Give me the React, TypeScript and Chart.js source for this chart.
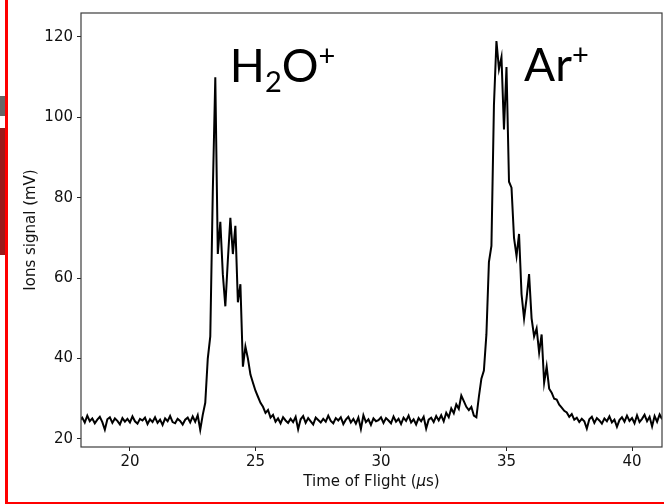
import React, { useEffect, useRef } from "react";
import { Chart, registerables } from "chart.js";

Chart.register(...registerables);

// ---- data ----
const tofStart = 18.0; // µs, first sample
const tofStep = 0.1; // µs between samples
const signal = [
  // 18.0
  24.6, 25.3, 24.1, 25.8, 24.4, 25.1, 23.9, 24.8, 25.5, 24.2,
  // 19.0
  22.3, 24.9, 25.4, 24.0, 25.1, 24.5, 23.6, 25.2, 24.3, 25.0,
  // 20.0
  24.1, 25.6, 24.4, 23.8, 25.0, 24.6, 25.3, 23.7, 24.9, 24.2,
  // 21.0
  25.4, 24.0, 24.8, 23.5, 25.1, 24.4, 25.7, 24.2, 23.9, 25.0,
  // 22.0
  24.5, 23.6, 24.8, 25.3, 24.1, 25.6, 24.3, 25.9, 22.3, 26.0,
  // 23.0
  29.0, 40.0, 45.5, 81.5, 110.0, 66.0, 74.0, 61.0, 53.0, 64.5,
  // 24.0
  75.0, 66.0, 73.0, 54.0, 58.5, 38.0, 43.0, 40.0, 36.0, 34.0,
  // 25.0
  32.0, 30.5, 29.0, 28.0, 26.5, 27.2, 25.3, 26.0, 24.3, 25.1,
  // 26.0
  23.9, 25.4, 24.6, 24.0, 25.0, 24.2, 25.5, 22.4, 24.9, 25.7,
  // 27.0
  24.0, 25.2, 24.4, 23.6, 25.3, 24.7, 24.1, 25.0, 24.3, 25.8,
  // 28.0
  24.5, 23.9, 25.2, 24.6, 25.4, 23.7, 24.8, 25.5, 24.1, 25.0,
  // 29.0
  23.8, 25.3, 22.5, 25.9, 24.2, 24.9, 23.5, 25.1, 24.4, 24.7,
  // 30.0
  25.4, 24.0, 25.2, 24.6, 23.9, 25.6, 24.3, 25.0, 23.7, 25.3,
  // 31.0
  24.5, 25.8, 24.1, 24.9, 23.6, 25.2, 24.4, 25.5, 22.6, 24.8,
  // 32.0
  25.3, 24.2, 25.7, 24.6, 25.9, 24.4, 26.5, 25.4, 27.6, 26.4,
  // 33.0
  28.6, 27.5, 30.8, 29.4, 28.0, 27.2, 28.0, 25.8, 25.4, 30.5,
  // 34.0
  35.0, 37.0, 46.0, 64.0, 68.0, 103.0, 119.0, 112.0, 115.0, 97.0,
  // 35.0
  112.5, 84.0, 82.5, 70.0, 65.5, 71.0, 56.0, 50.0, 55.0, 61.0,
  // 36.0
  50.0, 45.5, 47.5, 41.5, 46.0, 34.0, 38.0, 32.5, 31.5, 30.0,
  // 37.0
  29.8, 28.5, 27.8, 27.0, 26.6, 25.5, 26.2, 24.8, 25.3, 24.2,
  // 38.0
  25.0, 24.4, 22.6, 24.9, 25.5, 24.0, 25.2, 24.6, 23.8, 25.1,
  // 39.0
  24.4, 25.6, 24.1, 24.8, 23.0, 24.7, 25.4, 24.3, 25.8, 24.5,
  // 40.0
  25.2, 23.9, 25.9, 24.2, 25.0, 26.0, 24.4, 25.5, 23.1, 25.7,
  // 41.0
  24.3, 26.1, 24.9,
];

const xTickValues = [20, 25, 30, 35, 40];
const yTickValues = [20, 40, 60, 80, 100, 120];
const xRange = [18.05, 41.195];
const yRange = [18.0, 125.96];

// peak annotations: text ("_" = subscript, "^" = superscript) and anchor in data units
const peakLabelTexts = ["H_2O^+", "Ar^+"];
const peakLabelTof = [23.98, 35.7];
const peakLabelSignal = [108.7, 109.1];

const xTitleParts = ["Time of Flight (", "\u03bc", "s)"];
const yTitle = "Ions signal (mV)";

// ---- helpers ----
type Part = { text: string; kind: "n" | "sub" | "sup" };
function parseLabel(s: string): Part[] {
  const out: Part[] = [];
  let i = 0;
  while (i < s.length) {
    const c = s[i];
    if ((c === "_" || c === "^") && i + 1 < s.length) {
      out.push({ text: s[i + 1], kind: c === "_" ? "sub" : "sup" });
      i += 2;
    } else {
      out.push({ text: c, kind: "n" });
      i += 1;
    }
  }
  return out;
}

const TICK_FONT = "DejaVu Sans";

const decorPlugin = {
  id: "decor",
  afterDatasetsDraw(chart: any) {
    const { ctx, chartArea } = chart;
    const xs = chart.scales.x;
    const ys = chart.scales.y;
    ctx.save();
    // frame
    ctx.strokeStyle = "#3c3c3c";
    ctx.lineWidth = 1.2;
    ctx.strokeRect(
      chartArea.left,
      chartArea.top,
      chartArea.right - chartArea.left,
      chartArea.bottom - chartArea.top
    );

    // peak labels
    ctx.fillStyle = "#000";
    ctx.textBaseline = "alphabetic";
    ctx.textAlign = "left";
    const big = 46;
    peakLabelTexts.forEach((lab, k) => {
      let x = xs.getPixelForValue(peakLabelTof[k]);
      const y = ys.getPixelForValue(peakLabelSignal[k]);
      for (const p of parseLabel(lab)) {
        let size = big;
        let dy = 0;
        if (p.kind === "sub") {
          size = 29;
          dy = 10;
        } else if (p.kind === "sup") {
          size = 29;
          dy = -16;
        }
        ctx.font = `${size}px Lato`;
        ctx.fillText(p.text, x, y + dy);
        x += ctx.measureText(p.text).width;
      }
    });

    // x title
    ctx.fillStyle = "#111";
    const fs = 15;
    const fonts = [
      `${fs}px "${TICK_FONT}"`,
      `oblique ${fs}px "${TICK_FONT}"`,
      `${fs}px "${TICK_FONT}"`,
    ];
    let total = 0;
    xTitleParts.forEach((t, i) => {
      ctx.font = fonts[i];
      total += ctx.measureText(t).width;
    });
    let tx = (chartArea.left + chartArea.right) / 2 - total / 2;
    const ty = 486;
    xTitleParts.forEach((t, i) => {
      ctx.font = fonts[i];
      ctx.fillText(t, tx, ty);
      tx += ctx.measureText(t).width;
    });

    // y title
    ctx.font = `${fs}px "${TICK_FONT}"`;
    ctx.translate(35, (chartArea.top + chartArea.bottom) / 2);
    ctx.rotate(-Math.PI / 2);
    ctx.textAlign = "center";
    ctx.fillText(yTitle, 0, 0);
    ctx.restore();
  },
};

export default function App() {
  const ref = useRef<HTMLCanvasElement | null>(null);

  useEffect(() => {
    document.body.style.margin = "0";
    if (!ref.current) return;
    const points = signal.map((v, i) => ({
      x: +(tofStart + i * tofStep).toFixed(2),
      y: v,
    }));
    const chart = new Chart(ref.current, {
      type: "line",
      data: {
        datasets: [
          {
            data: points,
            borderColor: "#000",
            borderWidth: 2,
            pointRadius: 0,
            tension: 0,
            fill: false,
          },
        ],
      },
      options: {
        responsive: false,
        animation: false,
        events: [],
        layout: { padding: { left: 0, right: 2, top: 12, bottom: 0 } },
        plugins: {
          legend: { display: false },
          tooltip: { enabled: false },
          title: { display: false },
        },
        scales: {
          x: {
            type: "linear",
            min: xRange[0],
            max: xRange[1],
            border: { display: false },
            grid: {
              display: true,
              drawOnChartArea: false,
              drawTicks: true,
              tickLength: 4,
              color: "#222",
              lineWidth: 1,
            },
            ticks: {
              color: "#111",
              font: { family: TICK_FONT, size: 15 },
              padding: 2,
              maxRotation: 0,
              autoSkip: false,
            },
            afterBuildTicks: (s: any) => {
              s.ticks = xTickValues.map((v) => ({ value: v }));
            },
            afterFit: (s: any) => {
              s.height = 57;
            },
          },
          y: {
            type: "linear",
            min: yRange[0],
            max: yRange[1],
            border: { display: false },
            grid: {
              display: true,
              drawOnChartArea: false,
              drawTicks: true,
              tickLength: 4,
              color: "#222",
              lineWidth: 1,
            },
            ticks: {
              color: "#111",
              font: { family: TICK_FONT, size: 15 },
              padding: 4,
              autoSkip: false,
            },
            afterBuildTicks: (s: any) => {
              s.ticks = yTickValues.map((v) => ({ value: v }));
            },
            afterFit: (s: any) => {
              s.width = 81;
            },
          },
        },
      },
      plugins: [decorPlugin],
    });
    return () => chart.destroy();
  }, []);

  return (
    <div
      style={{
        position: "fixed",
        left: 0,
        top: 0,
        width: 664,
        height: 504,
        background: "#fff",
        overflow: "hidden",
      }}
    >
      <canvas ref={ref} width={664} height={504} style={{ display: "block" }} />
      <div style={{ position: "absolute", left: 0, top: 96, width: 5, height: 20, background: "#666" }} />
      <div style={{ position: "absolute", left: 0, top: 128, width: 5, height: 127, background: "#9b1b1b" }} />
      <div style={{ position: "absolute", left: 5, top: 0, width: 3, height: 504, background: "#ff0000" }} />
      <div style={{ position: "absolute", left: 5, top: 502, width: 659, height: 2, background: "#ff0000" }} />
    </div>
  );
}
